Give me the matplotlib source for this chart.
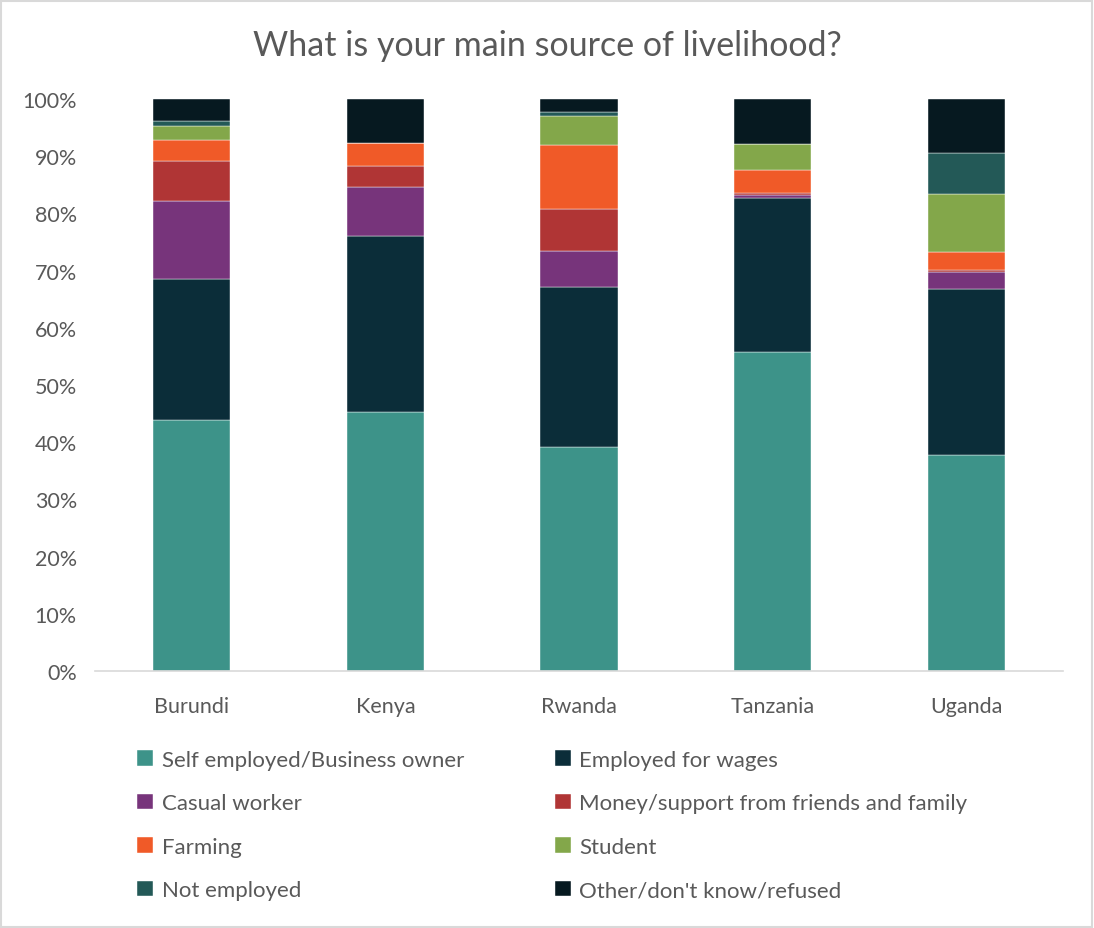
import matplotlib as mpl
mpl.use('Agg')
import matplotlib.pyplot as plt
from matplotlib.patches import Rectangle
import numpy as np

countries = ['Burundi', 'Kenya', 'Rwanda', 'Tanzania', 'Uganda']
categories = ['Self employed/Business owner', 'Employed for wages', 'Casual worker',
              'Money/support from friends and family', 'Farming', 'Student',
              'Not employed', "Other/don't know/refused"]

# shares in %, one list per category, in country order
self_employed = [43.8, 45.3, 39.1, 55.8, 37.8]
employed_wages = [24.7, 30.7, 28.0, 26.8, 28.9]
casual_worker = [13.6, 8.6, 6.4, 0.6, 3.1]
money_support = [7.0, 3.6, 7.3, 0.3, 0.3]
farming = [3.8, 4.1, 11.2, 4.1, 3.2]
student = [2.3, 0.0, 5.0, 4.5, 10.1]
not_employed = [1.0, 0.0, 0.8, 0.0, 7.2]
other = [3.8, 7.7, 2.2, 7.9, 9.4]

series = [self_employed, employed_wages, casual_worker, money_support,
          farming, student, not_employed, other]
colors = ['#3D9389', '#0B2D39', '#77347B', '#B03535',
          '#F05A28', '#83A74A', '#235957', '#061920']

plt.rcParams['font.family'] = ['Lato', 'DejaVu Sans']
txt = '#595959'

fig = plt.figure(figsize=(10.94, 9.29), dpi=100)
ax = fig.add_axes([0.0868, 0.2767, 0.8849, 0.6157])

x = np.arange(len(countries))
bottom = np.zeros(len(countries))
handles = []
for vals, col, lab in zip(series, colors, categories):
    v = np.array(vals) / 100.0
    b = ax.bar(x, v, 0.4, bottom=bottom, color=col, label=lab,
               edgecolor='white', linewidth=0.3)
    handles.append(b)
    bottom += v

ax.set_ylim(0, 1)
ax.set_xlim(-0.5, len(countries) - 0.5)
ax.set_yticks(np.arange(0, 1.01, 0.1))
ax.set_yticklabels(['%d%%' % (i * 10) for i in range(11)])
ax.set_xticks(x)
ax.set_xticklabels(countries)
ax.tick_params(axis='both', length=0, labelsize=15.5, colors=txt)
ax.tick_params(axis='x', pad=18)
ax.tick_params(axis='y', pad=13)
for s in ['top', 'right', 'left']:
    ax.spines[s].set_visible(False)
ax.spines['bottom'].set_color('#D9D9D9')
ax.spines['bottom'].set_linewidth(1.2)

fig.text(0.5, 0.951, 'What is your main source of livelihood?', ha='center',
         va='center', fontsize=24.5, color=txt)

# legend filled row by row like the original: reorder for column-major fill
order = [0, 2, 4, 6, 1, 3, 5, 7]
leg = fig.legend([handles[i] for i in order], [categories[i] for i in order],
                 ncol=2, loc='upper left', bbox_to_anchor=(0.107, 0.2134),
                 frameon=False, fontsize=16, labelcolor=txt,
                 handlelength=0.7, handleheight=0.7, handletextpad=0.4,
                 columnspacing=4.1, labelspacing=1.06)

fig.patches.append(Rectangle((0.001, 0.001), 0.997, 0.997, transform=fig.transFigure,
                             fill=False, edgecolor='#D9D9D9', linewidth=1.5))

fig.savefig('out.png', dpi=100)
plt.close()
